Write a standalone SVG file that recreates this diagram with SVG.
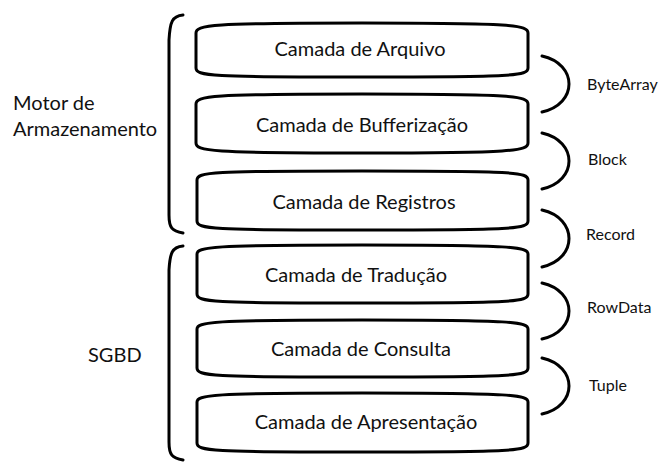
<svg xmlns="http://www.w3.org/2000/svg" width="662" height="462" viewBox="0 0 662 462">
<style>
.box{fill:#fff;stroke:#000;stroke-width:3}
.br{fill:none;stroke:#000;stroke-width:3;stroke-linecap:round}
text{font-family:Lato,"Open Sans",sans-serif;font-size:20px;fill:#111;stroke:none}
.c{text-anchor:middle;dominant-baseline:central}
.l{dominant-baseline:central}
.s{font-size:16px}
</style>
<rect width="662" height="462" fill="#fff"/>
<g id="braces" class="br">
<path d="M183,15 C172,16 170,22 169,40 L169,215 C169,228 172,231 183,233"/>
<path d="M183,246 C172,247 170,253 169,270 L169,442 C169,455 172,458 183,460"/>
</g>
<g id="connectors" class="br">
<path d="M542,56 C578,64 578,104 542,112"/>
<path d="M542,133 C578,141 578,181 542,189"/>
<path d="M542,210 C578,218 578,259 542,267"/>
<path d="M542,283 C578,291 578,331 542,339"/>
<path d="M542,358 C578,366 578,406 542,414"/>
</g>
<g id="connector-labels">
<text class="l s" x="587" y="83">ByteArray</text>
<text class="l s" x="588" y="158">Block</text>
<text class="l s" x="586" y="233">Record</text>
<text class="l s" x="587" y="306">RowData</text>
<text class="l s" x="589" y="384">Tuple</text>
</g>
<g id="n1"><path class="box" d="M196,33 C196,25 210,23 362,23 C514,23 528,25 528,33 L528,68 C528,76 514,77 362,77 C210,77 196,76 196,68 Z"/><text class="c" x="360" y="48">Camada de Arquivo</text></g>
<g id="n2"><path class="box" d="M196,104 C196,96 210,94 362,94 C514,94 528,96 528,104 L528,143 C528,151 514,153 362,153 C210,153 196,151 196,143 Z"/><text class="c" x="362" y="124">Camada de Bufferização</text></g>
<g id="n3"><path class="box" d="M197,180 C197,172 211,171 362,171 C514,171 528,172 528,180 L528,221 C528,229 514,230 362,230 C211,230 197,229 197,221 Z"/><text class="c" x="364" y="201">Camada de Registros</text></g>
<g id="n4"><path class="box" d="M197,254 C197,247 211,245 362,245 C514,245 528,247 528,254 L528,294 C528,302 514,303 362,303 C211,303 197,302 197,294 Z"/><text class="c" x="356" y="274">Camada de Tradução</text></g>
<g id="n5"><path class="box" d="M197,329 C197,322 211,320 362,320 C514,320 528,322 528,329 L528,368 C528,376 514,377 362,377 C211,377 197,376 197,368 Z"/><text class="c" x="361" y="348">Camada de Consulta</text></g>
<g id="n6"><path class="box" d="M197,402 C197,395 211,393 362,393 C514,393 528,395 528,402 L528,443 C528,451 514,452 362,452 C211,452 197,451 197,443 Z"/><text class="c" x="366" y="421">Camada de Apresentação</text></g>
<g id="labels">
<text class="l" x="13" y="102">Motor de</text>
<text class="l" x="13" y="128">Armazenamento</text>
<text class="l" x="88" y="354">SGBD</text>
</g>
</svg>
